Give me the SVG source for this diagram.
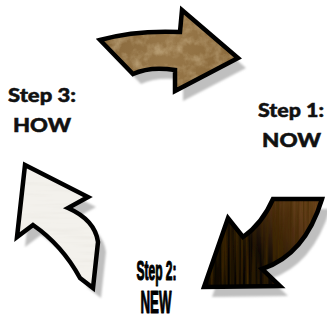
<svg xmlns="http://www.w3.org/2000/svg" width="327" height="320" viewBox="0 0 327 320">
<style>
.shadow{fill:#bfbfbf}
.outline{fill:none;stroke:#000;stroke-width:4.5;stroke-linejoin:miter;stroke-miterlimit:10}
.lbl{font-family:Lato,"Open Sans","Liberation Sans",sans-serif;font-weight:900;fill:#111;stroke:#111;stroke-width:0.5}
.cond{font-family:"Liberation Sans",Arial,sans-serif;font-weight:bold;fill:#000;stroke:#000;stroke-width:1.2;stroke-linejoin:round}
</style>
<defs>
<filter id="blur" x="-10%" y="-10%" width="120%" height="120%"><feGaussianBlur stdDeviation="0.8"/></filter>
<filter id="texBrown" x="0" y="0" width="1" height="1">
<feTurbulence type="fractalNoise" baseFrequency="0.09" numOctaves="4" seed="4" result="n"/>
<feColorMatrix in="n" type="matrix" values="0 0 0 0 0.72  0 0 0 0 0.58  0 0 0 0 0.36  1.0 0 0 0 -0.4" result="c"/>
<feComposite in="c" in2="SourceGraphic" operator="in"/>
</filter>
<filter id="texWhite" x="0" y="0" width="1" height="1">
<feTurbulence type="fractalNoise" baseFrequency="0.02 0.25" numOctaves="2" seed="7" result="n"/>
<feColorMatrix in="n" type="matrix" values="0 0 0 0 0.80  0 0 0 0 0.78  0 0 0 0 0.73  1.2 0 0 0 -0.55" result="c"/>
<feComposite in="c" in2="SourceGraphic" operator="in"/>
</filter>
<filter id="texWood" x="0" y="0" width="1" height="1">
<feTurbulence type="fractalNoise" baseFrequency="0.3 0.01" numOctaves="2" seed="2" result="n"/>
<feColorMatrix in="n" type="matrix" values="0 0 0 0 0.05  0 0 0 0 0.02  0 0 0 0 0  2 0 0 0 -0.7" result="c"/>
<feComposite in="c" in2="SourceGraphic" operator="in"/>
</filter>
<linearGradient id="gBrown" x1="100" y1="20" x2="238" y2="80" gradientUnits="userSpaceOnUse">
<stop offset="0" stop-color="#86663a"/>
<stop offset="0.5" stop-color="#98784a"/>
<stop offset="1" stop-color="#876638"/>
</linearGradient>
<linearGradient id="gWood" x1="322" y1="200" x2="215" y2="285" gradientUnits="userSpaceOnUse">
<stop offset="0" stop-color="#7a4f22"/>
<stop offset="0.35" stop-color="#4a2c10"/>
<stop offset="0.6" stop-color="#0d0805"/>
<stop offset="1" stop-color="#000"/>
</linearGradient>
<path id="pTop" d="M100,40 Q135,30 180,32 L182,10 L238,58 L175,91 L175,70 Q150,66 133,74 Z"/>
<path id="pRight" d="M322,199 L273,199 Q262,224 243,237 L228,218 L204,287 L280,286 L262,269 Q305,255 322,199 Z"/>
<path id="pLeft" d="M25,165 L88,197 L68,208 Q95,220 98,242 L93,288 L80,278 Q62,245 33,225 L17,237 Z"/>
</defs>
<g id="connectors">
<g id="arrow-top">
<use href="#pTop" class="shadow" transform="translate(8,10)" filter="url(#blur)"/>
<use href="#pTop" fill="url(#gBrown)"/>
<use href="#pTop" fill="#000" filter="url(#texBrown)"/>
<use href="#pTop" class="outline"/>
</g>
<g id="arrow-right">
<use href="#pRight" class="shadow" transform="translate(8,10)" filter="url(#blur)"/>
<use href="#pRight" fill="url(#gWood)"/>
<use href="#pRight" fill="#000" filter="url(#texWood)"/>
<use href="#pRight" class="outline" stroke-width="3"/>
</g>
<g id="arrow-left">
<use href="#pLeft" class="shadow" transform="translate(8,10)" filter="url(#blur)"/>
<use href="#pLeft" fill="#f3f1ec"/>
<use href="#pLeft" fill="#fff" filter="url(#texWhite)"/>
<use href="#pLeft" class="outline"/>
</g>
</g>
<g id="step1">
<text class="lbl" x="258" y="117" font-size="19" textLength="66" lengthAdjust="spacingAndGlyphs">Step 1:</text>
<text class="lbl" x="262" y="147" font-size="19" textLength="59" lengthAdjust="spacingAndGlyphs">NOW</text>
</g>
<g id="step2">
<text class="cond" x="136.5" y="280" font-size="27" textLength="40" lengthAdjust="spacingAndGlyphs">Step 2:</text>
<text class="cond" x="140.5" y="313" font-size="31" textLength="31" lengthAdjust="spacingAndGlyphs">NEW</text>
</g>
<g id="step3">
<text class="lbl" x="8" y="102" font-size="19" textLength="68" lengthAdjust="spacingAndGlyphs">Step 3:</text>
<text class="lbl" x="13" y="132" font-size="19" textLength="58" lengthAdjust="spacingAndGlyphs">HOW</text>
</g>
</svg>
